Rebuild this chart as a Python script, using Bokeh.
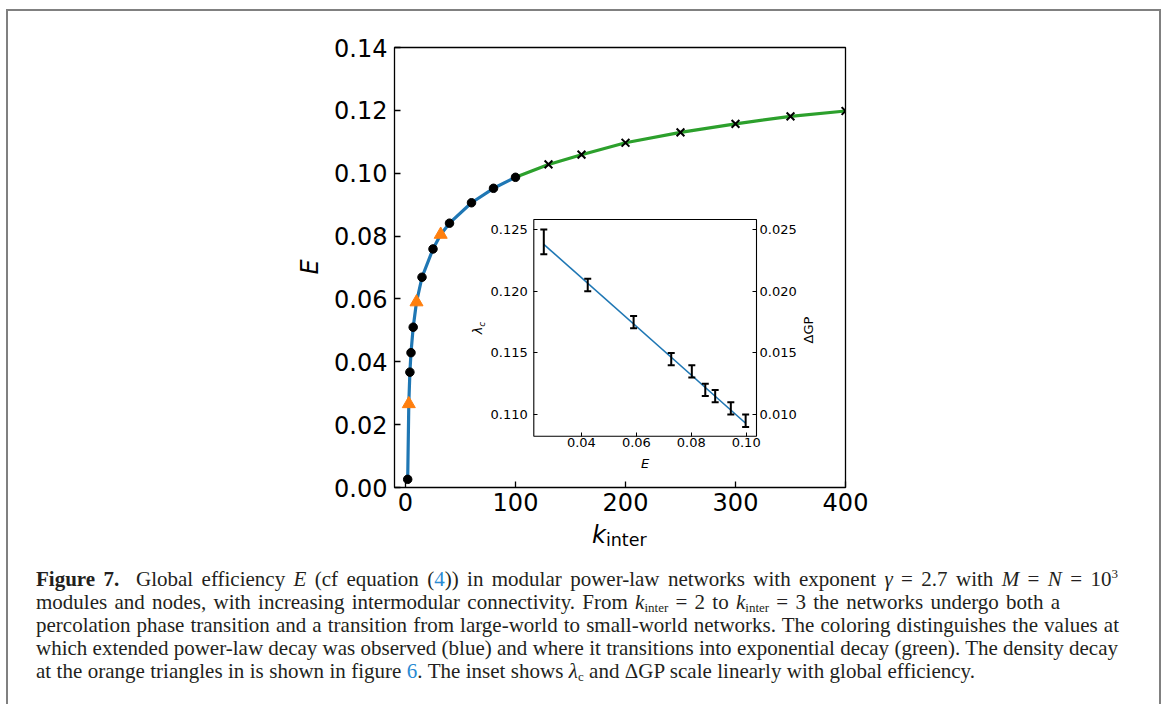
import math
from bokeh.plotting import figure
from bokeh.layouts import column
from bokeh.models import (FixedTicker, NumeralTickFormatter, LinearAxis, Range1d, Div)
from bokeh.embed import file_html
from bokeh.resources import INLINE

# ---------------- main panel data ----------------
k_dots = [2, 4, 5, 7, 15, 25, 40, 60, 80, 100]
E_dots = [0.0026, 0.0367, 0.0429, 0.0510, 0.0669, 0.0759, 0.0841, 0.0906, 0.0952, 0.0987]
k_tri = [3, 10, 32]
E_tri = [0.0266, 0.0590, 0.0805]
k_cross = [130, 160, 200, 250, 300, 350, 400]
E_cross = [0.1028, 0.1059, 0.1097, 0.1130, 0.1157, 0.1181, 0.1198]
x_ticks = [0, 100, 200, 300, 400]
y_ticks = [0.00, 0.02, 0.04, 0.06, 0.08, 0.10, 0.12, 0.14]

# ---------------- inset data ----------------
E_in = [0.0263, 0.0423, 0.0590, 0.0727, 0.0802, 0.0851, 0.0887, 0.0944, 0.0998]
lam_in = [0.1240, 0.1205, 0.1175, 0.1145, 0.1135, 0.1120, 0.1115, 0.1105, 0.1095]
lam_err = [0.0010, 0.0005, 0.0005, 0.0005, 0.0005, 0.0005, 0.0005, 0.0005, 0.0005]
fit_E = [0.0263, 0.0998]
fit_lam = [0.1238, 0.1093]
inset_x_ticks = [0.04, 0.06, 0.08, 0.10]
inset_y_ticks = [0.110, 0.115, 0.120, 0.125]
inset_gp_ticks = [0.010, 0.015, 0.020, 0.025]

FONT = "DejaVu Sans"
BLUE = "#1f77b4"
GREEN = "#2ca02c"
ORANGE = "#ff7f0e"

blue_pts = sorted(zip(k_dots + k_tri, E_dots + E_tri))
blue_k = [a for a, b in blue_pts]
blue_E = [b for a, b in blue_pts]
green_k = [k_dots[-1]] + k_cross
green_E = [E_dots[-1]] + E_cross

# ---------------- layout geometry (pixels) ----------------
W, H = 1165, 704
FL, FT, FW, FH = 394, 47, 451, 440          # main plot frame
IL, IT, IR, IB = 533.3, 219.0, 756.0, 435.7  # inset frame (page pixels)
ins_x = (0.02266, 0.10375)                  # inset data window
ins_y = (0.10825, 0.12581)
GP_OFFSET = 0.1                             # right inset axis: dGP = lambda_c - 0.1

# inset ranges stretched over the whole main frame so the inset window lands on its box
sx = (IR - IL) / (ins_x[1] - ins_x[0])
sy = (IB - IT) / (ins_y[1] - ins_y[0])
ix0 = ins_x[0] - (IL - FL) / sx
ix1 = ix0 + FW / sx
iy0 = ins_y[0] - (FT + FH - IB) / sy
iy1 = iy0 + FH / sy

p = figure(width=W, height=H, x_range=Range1d(-10, 400), y_range=Range1d(0, 0.14),
           output_backend="svg", toolbar_location=None,
           min_border_left=FL, min_border_right=W - FL - FW,
           min_border_top=FT, min_border_bottom=H - FT - FH)
p.border_fill_color = "white"
p.background_fill_color = "white"
p.outline_line_color = "black"
p.outline_line_width = 1.3
p.grid.visible = False
p.extra_x_ranges = {"ix": Range1d(ix0, ix1)}
p.extra_y_ranges = {"iy": Range1d(iy0, iy1), "igp": Range1d(iy0 - GP_OFFSET, iy1 - GP_OFFSET)}

# main curves
p.line(blue_k, blue_E, line_color=BLUE, line_width=3.2)
p.line(green_k, green_E, line_color=GREEN, line_width=3.2)
p.scatter(k_dots, E_dots, marker="circle", size=8.5, fill_color="black", line_color="black")
p.scatter(k_cross, E_cross, marker="x", size=11, line_color="black", line_width=2)
p.scatter(k_tri, E_tri, marker="triangle", size=13, fill_color=ORANGE, line_color=ORANGE)

for ax in (p.xaxis[0], p.yaxis[0]):
    ax.axis_line_color = None
    ax.major_tick_in = 6
    ax.major_tick_out = 0
    ax.minor_tick_line_color = None
    ax.major_tick_line_color = "black"
    ax.major_tick_line_width = 1.3
    ax.major_label_text_font = FONT
    ax.major_label_text_font_size = "24px"
    ax.major_label_text_color = "black"
p.xaxis[0].ticker = FixedTicker(ticks=x_ticks)
p.yaxis[0].ticker = FixedTicker(ticks=y_ticks)
p.yaxis[0].formatter = NumeralTickFormatter(format="0.00")
p.xaxis[0].major_label_standoff = 5
p.yaxis[0].major_label_standoff = 7

# ---------------- inset (drawn inside the main frame on its own ranges) ----------------
p.quad(left=[ins_x[0]], right=[ins_x[1]], bottom=[ins_y[0]], top=[ins_y[1]],
       x_range_name="ix", y_range_name="iy",
       fill_color="white", line_color="black", line_width=1.1)
p.line(fit_E, fit_lam, line_color=BLUE, line_width=1.6, x_range_name="ix", y_range_name="iy")
lo = [m - e for m, e in zip(lam_in, lam_err)]
hi = [m + e for m, e in zip(lam_in, lam_err)]
p.segment(E_in, lo, E_in, hi, line_color="black", line_width=2,
          x_range_name="ix", y_range_name="iy")
p.scatter(E_in, lo, marker="dash", size=7, line_color="black", line_width=2,
          x_range_name="ix", y_range_name="iy")
p.scatter(E_in, hi, marker="dash", size=7, line_color="black", line_width=2,
          x_range_name="ix", y_range_name="iy")


def style_inset_axis(ax, standoff):
    ax.axis_line_color = None
    ax.major_tick_in = 4
    ax.major_tick_out = 0
    ax.minor_tick_line_color = None
    ax.major_tick_line_color = "black"
    ax.major_tick_line_width = 1
    ax.major_label_text_font = FONT
    ax.major_label_text_font_size = "13px"
    ax.major_label_text_color = "black"
    ax.major_label_standoff = standoff


ax_b = LinearAxis(x_range_name="ix", y_range_name="iy", fixed_location=ins_y[0],
                  ticker=FixedTicker(ticks=inset_x_ticks),
                  formatter=NumeralTickFormatter(format="0.00"))
style_inset_axis(ax_b, 2)
p.add_layout(ax_b, "below")
ax_l = LinearAxis(x_range_name="ix", y_range_name="iy", fixed_location=ins_x[0],
                  ticker=FixedTicker(ticks=inset_y_ticks),
                  formatter=NumeralTickFormatter(format="0.000"))
style_inset_axis(ax_l, 6)
p.add_layout(ax_l, "left")
ax_r = LinearAxis(x_range_name="ix", y_range_name="igp", fixed_location=ins_x[1],
                  ticker=FixedTicker(ticks=inset_gp_ticks),
                  formatter=NumeralTickFormatter(format="0.000"))
style_inset_axis(ax_r, 3)
p.add_layout(ax_r, "right")


# ---------------- HTML texts (axis titles, caption, frame) ----------------
def abs_div(html, left, top, width, height, extra=None):
    st = {"position": "absolute", "left": "%spx" % left, "top": "%spx" % top}
    if extra:
        st.update(extra)
    return Div(text=html, width=width, height=height, margin=0, styles=st)


DJ = "font-family:'DejaVu Sans',sans-serif;color:black;"
divs = []
# main x label  k_inter
divs.append(abs_div('<div style="%sfont-size:24px;line-height:24px;white-space:nowrap">'
                    '<i>k</i><span style="font-size:17.5px;vertical-align:-3.4px">inter</span></div>' % DJ,
                    592, 523, 80, 30))
# main y label  E (rotated)
divs.append(abs_div('<div style="%sfont-size:24px;line-height:30px;width:30px;height:30px;'
                    'text-align:center;font-style:italic;transform:rotate(-90deg)">E</div>' % DJ,
                    295, 252, 30, 30))
# inset x label  E
divs.append(abs_div('<div style="%sfont-size:13px;line-height:13px;width:40px;text-align:center;'
                    'font-style:italic">E</div>' % DJ, 625, 455.5, 40, 16))
# inset left label  lambda_c (rotated)
divs.append(abs_div('<div style="%sfont-size:13px;line-height:30px;width:30px;height:30px;'
                    'text-align:center;transform:rotate(-90deg);white-space:nowrap"><i>λ</i>'
                    '<span style="font-size:9px;vertical-align:-2.5px;font-style:italic">c</span></div>' % DJ,
                    463, 313, 30, 30))
# inset right label  dGP (rotated)
divs.append(abs_div('<div style="%sfont-size:13px;line-height:40px;width:40px;height:40px;'
                    'text-align:center;transform:rotate(-90deg);white-space:nowrap">ΔGP</div>' % DJ,
                    789, 309.5, 40, 40))

LINK = "#2a8ad2"
sub = '<span style="font-size:13px;vertical-align:-3px;line-height:0">inter</span>'
lines = [
    ('<b>Figure 7.</b>&nbsp; Global efficiency <i>E</i> (cf equation (<span style="color:%s">4</span>)) '
     'in modular power-law networks with exponent <i>γ</i> = 2.7 with <i>M</i> = <i>N</i> = '
     '10<span style="font-size:13px;vertical-align:8px;line-height:0">3</span>' % LINK, 1082),
    ('modules and nodes, with increasing intermodular connectivity. From <i>k</i>%s = 2 to '
     '<i>k</i>%s = 3 the networks undergo both a' % (sub, sub), 1024),
    ('percolation phase transition and a transition from large-world to small-world networks. '
     'The coloring distinguishes the values at', 1083),
    ('which extended power-law decay was observed (blue) and where it transitions into '
     'exponential decay (green). The density decay', 1082),
    ('at the orange triangles in is shown in figure <span style="color:%s">6</span>. The inset shows '
     '<i>λ</i><span style="font-size:13px;vertical-align:-3px;line-height:0">c</span> and ΔGP scale '
     'linearly with global efficiency.' % LINK, 939),
]
html = ('<div style="font-family:\'Liberation Serif\',serif;font-size:21px;color:#231f20;'
        'line-height:23.1px">')
for t, w in lines:
    html += ('<div style="width:%dpx;height:23.1px;white-space:nowrap;text-align:justify;'
             'text-align-last:justify">%s</div>' % (w, t))
html += '</div>'
divs.append(abs_div(html, 36, 568, 1100, 120))

divs.append(abs_div("", 6, 9, 1155, 695,
                    {"border-top": "2px solid #808080", "border-left": "2px solid #808080",
                     "border-right": "2px solid #808080", "box-sizing": "border-box"}))

layout = column(p, *divs)

open("out.html", "w").write(file_html(layout, INLINE))
